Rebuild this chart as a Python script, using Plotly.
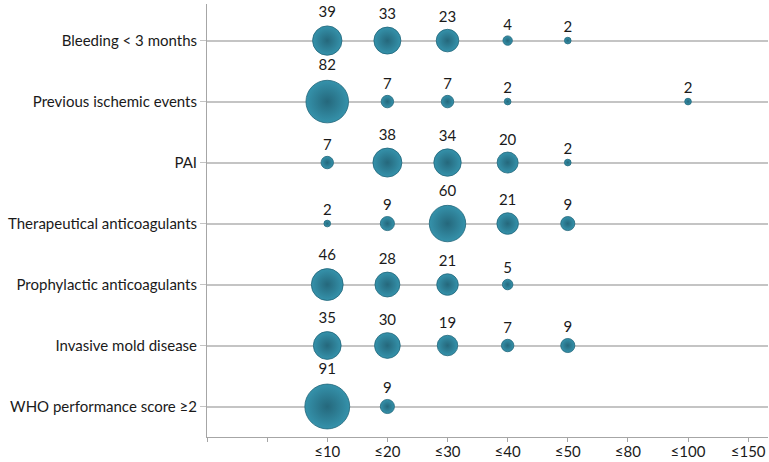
import plotly.graph_objects as go

# Categories (top to bottom)
categories = [
    "Bleeding < 3 months",
    "Previous ischemic events",
    "PAI",
    "Therapeutical anticoagulants",
    "Prophylactic anticoagulants",
    "Invasive mold disease",
    "WHO performance score ≥2",
]
# x tick labels (first two slots are blank in the original)
tick_labels = ["", "", "≤10", "≤20", "≤30", "≤40", "≤50", "≤80", "≤100", "≤150"]

# Values per category, keyed by tick label
bleeding = {"≤10": 39, "≤20": 33, "≤30": 23, "≤40": 4, "≤50": 2}
ischemic = {"≤10": 82, "≤20": 7, "≤30": 7, "≤40": 2, "≤100": 2}
pai = {"≤10": 7, "≤20": 38, "≤30": 34, "≤40": 20, "≤50": 2}
therapeutic = {"≤10": 2, "≤20": 9, "≤30": 60, "≤40": 21, "≤50": 9}
prophylactic = {"≤10": 46, "≤20": 28, "≤30": 21, "≤40": 5}
invasive = {"≤10": 35, "≤20": 30, "≤30": 19, "≤40": 7, "≤50": 9}
who = {"≤10": 91, "≤20": 9}

series = [bleeding, ischemic, pai, therapeutic, prophylactic, invasive, who]

n = len(categories)
xs, ys, vals = [], [], []
for i, row in enumerate(series):
    yv = n - i
    for lab, v in row.items():
        xs.append(tick_labels.index(lab))
        ys.append(yv)
        vals.append(v)

font = "Lato, 'Open Sans', sans-serif"

fig = go.Figure()
fig.add_trace(go.Scatter(
    x=xs, y=ys, mode="markers+text",
    text=[str(v) for v in vals],
    textposition="top center",
    textfont=dict(family=font, size=15, color="#1a1a1a"),
    marker=dict(
        size=vals, sizemode="area", sizeref=2 / 4.7 ** 2, sizemin=2,
        color="#3592ab",
        gradient=dict(type="radial", color="#25687c"),
        line=dict(width=0.8, color="#1f6478"),
        opacity=1,
    ),
    cliponaxis=False,
    hoverinfo="skip",
    showlegend=False,
))

fig.update_layout(
    width=769, height=462,
    margin=dict(l=207, r=1, t=4, b=25),
    paper_bgcolor="white", plot_bgcolor="white",
    font=dict(family=font, size=15, color="#1a1a1a"),
    xaxis=dict(
        range=[0, 9.33], tickmode="array",
        tickvals=list(range(len(tick_labels))), ticktext=tick_labels,
        showgrid=False, zeroline=False, automargin=False,
        showline=True, linecolor="#a6a6a6", linewidth=1,
        ticks="outside", ticklen=4, tickcolor="#a6a6a6",
        tickfont=dict(family=font, size=15, color="#1a1a1a"),
        ticklabelstandoff=-3,
    ),
    yaxis=dict(
        range=[0.5, 7.6], tickmode="array",
        tickvals=list(range(n, 0, -1)), ticktext=categories,
        showgrid=True, gridcolor="#c4c4c4", gridwidth=1.5,
        zeroline=False, automargin=False,
        showline=True, linecolor="#a6a6a6", linewidth=1,
        ticks="outside", ticklen=6, tickcolor="#c4c4c4",
        tickfont=dict(family=font, size=15, color="#1a1a1a"),
        ticklabelstandoff=0,
    ),
)

fig.write_html("out.html", config={"displayModeBar": False},
               post_script="document.body.style.margin='0';")
